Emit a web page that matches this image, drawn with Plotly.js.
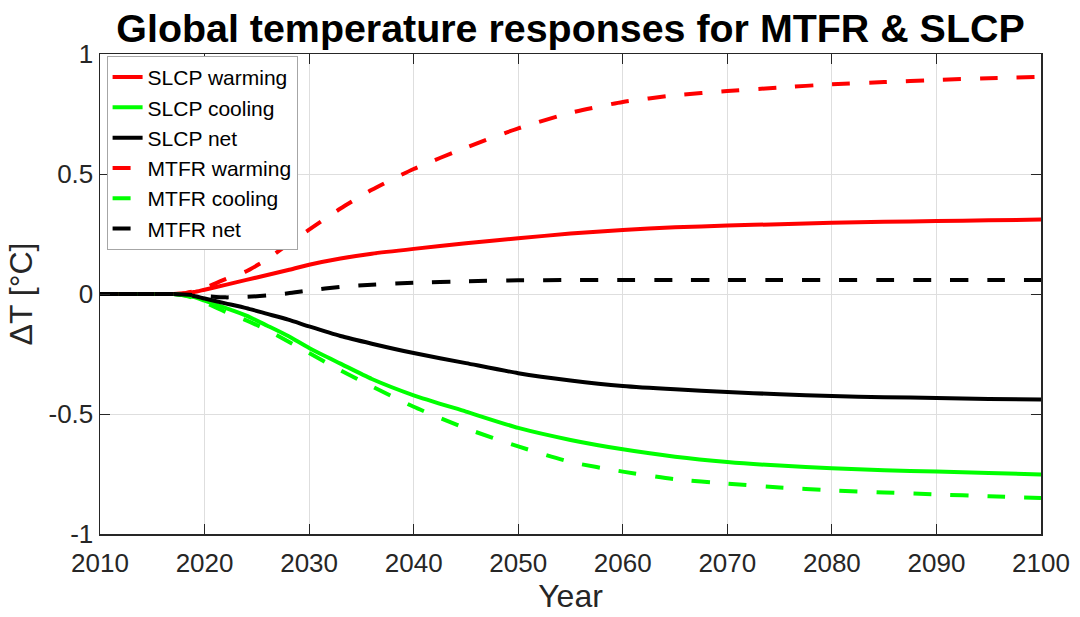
<!DOCTYPE html>
<html>
<head>
<meta charset="utf-8">
<script src="https://cdn.plot.ly/plotly-3.0.1.min.js"></script>
<style>html,body{margin:0;padding:0;background:#fff;}#chart{width:1080px;height:617px;}</style>
</head>
<body>
<div id="chart"></div>
<script>
var years = [2010, 2015, 2017, 2018, 2019, 2020, 2022, 2024, 2026, 2028, 2030, 2033, 2036, 2040, 2045, 2050, 2055, 2060, 2065, 2070, 2075, 2080, 2085, 2090, 2095, 2100];

var slcpWarming = [0, 0, 0, 0.002, 0.008, 0.018, 0.038, 0.059, 0.079, 0.1, 0.122, 0.148, 0.168, 0.188, 0.211, 0.232, 0.252, 0.267, 0.278, 0.285, 0.291, 0.297, 0.301, 0.304, 0.307, 0.31];
var slcpCooling = [0, 0, 0, -0.005, -0.013, -0.028, -0.058, -0.09, -0.132, -0.175, -0.225, -0.29, -0.354, -0.422, -0.49, -0.558, -0.608, -0.647, -0.678, -0.70, -0.715, -0.726, -0.734, -0.74, -0.746, -0.752];
var slcpNet = [0, 0, 0, -0.003, -0.008, -0.019, -0.039, -0.059, -0.083, -0.107, -0.135, -0.175, -0.207, -0.246, -0.288, -0.33, -0.36, -0.383, -0.397, -0.408, -0.418, -0.425, -0.43, -0.433, -0.437, -0.44];
var mtfrWarming = [0, 0, 0, 0.003, 0.012, 0.025, 0.062, 0.095, 0.145, 0.208, 0.268, 0.356, 0.434, 0.521, 0.61, 0.69, 0.755, 0.80, 0.828, 0.846, 0.86, 0.874, 0.883, 0.892, 0.899, 0.905];
var mtfrCooling = [0, 0, 0, -0.005, -0.017, -0.035, -0.075, -0.11, -0.15, -0.198, -0.246, -0.318, -0.385, -0.47, -0.56, -0.635, -0.70, -0.74, -0.772, -0.79, -0.806, -0.818, -0.827, -0.835, -0.843, -0.85];
var mtfrNet = [0, 0, 0, -0.002, -0.005, -0.008, -0.014, -0.012, -0.006, 0.003, 0.015, 0.03, 0.039, 0.047, 0.053, 0.057, 0.058, 0.058, 0.058, 0.058, 0.058, 0.058, 0.058, 0.058, 0.058, 0.058];

var seriesNames = ["SLCP warming", "SLCP cooling", "SLCP net", "MTFR warming", "MTFR cooling", "MTFR net"];
var seriesData = [slcpWarming, slcpCooling, slcpNet, mtfrWarming, mtfrCooling, mtfrNet];
var seriesColors = ["#ff0000", "#00ff00", "#000000", "#ff0000", "#00ff00", "#000000"];
var seriesDash = ["solid", "solid", "solid", "18px,19px", "18px,19px", "18px,19px"];

var xTicks = [2010, 2020, 2030, 2040, 2050, 2060, 2070, 2080, 2090, 2100];
var yTicks = [-1, -0.5, 0, 0.5, 1];
var yTickText = ["-1", "-0.5", "0", "0.5", "1"];

var traces = seriesNames.map(function (name, i) {
  return {
    x: years,
    y: seriesData[i],
    name: name,
    mode: "lines",
    type: "scatter",
    line: { color: seriesColors[i], width: 4, dash: seriesDash[i], shape: "spline", smoothing: 0.6 }
  };
});

var FONT = "'Liberation Sans', Arial, Helvetica, sans-serif";
var AX = "#262626";

var layout = {
  width: 1080,
  height: 617,
  margin: { l: 100, r: 39, t: 54, b: 83 },
  paper_bgcolor: "#ffffff",
  plot_bgcolor: "#ffffff",
  font: { family: FONT, color: AX },
  title: {
    text: "<b>Global temperature responses for MTFR & SLCP</b>",
    font: { family: FONT, size: 39.4, color: "#000000" },
    x: 0.5, xref: "paper",
    y: 1 - 28 / 617, yref: "container", yanchor: "middle"
  },
  xaxis: {
    range: [2010, 2100],
    tickvals: xTicks,
    ticktext: xTicks.map(String),
    ticks: "inside", ticklen: 10, tickwidth: 1, tickcolor: AX,
    showline: true, linecolor: AX, linewidth: 1.5, mirror: "ticks",
    showgrid: true, gridcolor: "#dedede", gridwidth: 1,
    zeroline: false,
    ticklabelstandoff: 5,
    tickfont: { family: FONT, size: 26, color: AX },
    title: { text: "Year", font: { family: FONT, size: 32, color: AX }, standoff: 2 }
  },
  yaxis: {
    range: [-1, 1],
    tickvals: yTicks,
    ticktext: yTickText,
    ticks: "inside", ticklen: 10, tickwidth: 1, tickcolor: AX,
    showline: true, linecolor: AX, linewidth: 1.5, mirror: "ticks",
    showgrid: true, gridcolor: "#dedede", gridwidth: 1,
    zeroline: false,
    tickfont: { family: FONT, size: 26, color: AX },
    title: { text: "ΔT [°C]", font: { family: FONT, size: 32, color: AX }, standoff: 6 }
  },
  showlegend: true,
  legend: {
    x: 0.007, y: 0.996, xanchor: "left", yanchor: "top",
    bgcolor: "#ffffff", bordercolor: "#a6a6a6", borderwidth: 1,
    font: { family: FONT, size: 21, color: "#000000" },
    itemwidth: 30
  }
};

Plotly.newPlot("chart", traces, layout, { displayModeBar: false, staticPlot: true });
</script>
</body>
</html>
